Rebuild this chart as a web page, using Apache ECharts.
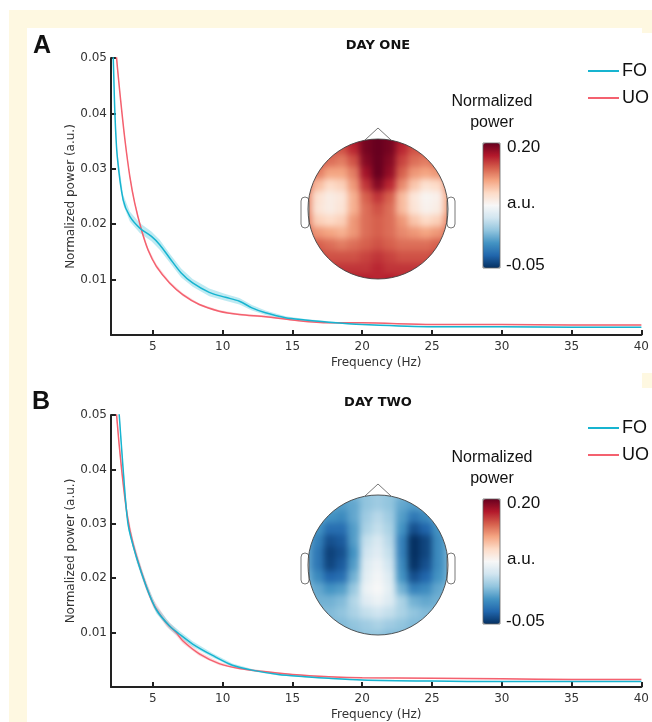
<!DOCTYPE html>
<html>
<head>
<meta charset="utf-8">
<script src="https://cdn.jsdelivr.net/npm/echarts@6/dist/echarts.min.js"></script>
<style>
html, body { margin: 0; padding: 0; background: #fff; }
#wrap { position: relative; width: 652px; height: 722px; }
#main { position: absolute; left: 0; top: 0; width: 652px; height: 722px; }
.head { position: absolute; width: 140px; height: 140px; border-radius: 50%; overflow: hidden; }
.headChart { position: absolute; left: -12px; top: -12px; width: 164px; height: 164px; filter: blur(3.2px); }
</style>
</head>
<body>
<div id="wrap">
  <div class="head" style="left:308px;top:139px"><div id="headA" class="headChart"></div></div>
  <div class="head" style="left:308px;top:495px"><div id="headB" class="headChart"></div></div>
  <div id="main"></div>
</div>
<script>
// axis ticks
var freqTicks = [5, 10, 15, 20, 25, 30, 35, 40];
var powerTicks = [0.01, 0.02, 0.03, 0.04, 0.05];
var rdbu = ['#053061', '#2166ac', '#4393c3', '#92c5de', '#d1e5f0', '#f7f7f7',
            '#fddbc7', '#f4a582', '#d6604d', '#b2182b', '#67001f'];

// day one - FO
var foFreqA = [2.0, 2.16, 2.28, 2.45, 2.87, 3.35, 4.06, 4.9, 5.49, 6.2, 7.03, 7.85, 9.04, 10.2, 11.2, 12.1, 13.07, 14.5, 15.9, 17.6, 20, 25, 30, 35, 40];
var foPowA  = [0.060, 0.050, 0.040, 0.0322, 0.0244, 0.0214, 0.0193, 0.0178, 0.0163, 0.0139, 0.0112, 0.0094, 0.0077, 0.0068, 0.0061, 0.0049, 0.0040, 0.0031, 0.0027, 0.0023, 0.0019, 0.0015, 0.0015, 0.0014, 0.0014];
var foErrA  = [0.0015, 0.0012, 0.0010, 0.0009, 0.0009, 0.0009, 0.0009, 0.0009, 0.0009, 0.0008, 0.0008, 0.0007, 0.0007, 0.0006, 0.0006, 0.0005, 0.0004, 0.0003, 0.0002, 0.0002, 0.0001, 0.0001, 0.0001, 0.0001, 0.0001];
// day one - UO
var uoFreqA = [2.3, 2.4, 2.69, 3.0, 3.35, 3.7, 4.18, 4.65, 5.25, 6.2, 7.14, 8.33, 9.75, 11.2, 13.1, 15, 17.6, 20, 25, 30, 35, 40];
var uoPowA  = [0.054, 0.050, 0.0424, 0.0352, 0.0286, 0.0238, 0.0190, 0.0154, 0.0124, 0.0094, 0.0073, 0.0055, 0.0043, 0.0037, 0.0033, 0.0027, 0.0022, 0.0022, 0.0019, 0.0019, 0.0018, 0.0018];
var uoErrA  = [0.0005, 0.0005, 0.0005, 0.0005, 0.0004, 0.0004, 0.0004, 0.0004, 0.0004, 0.0003, 0.0003, 0.0002, 0.0002, 0.0002, 0.0002, 0.0001, 0.0001, 0.0001, 0.0001, 0.0001, 0.0001, 0.0001];

// day two - FO
var foFreqB = [2.45, 2.59, 2.87, 3.23, 3.83, 4.54, 5.25, 6.2, 6.91, 7.85, 9.28, 10.7, 12.1, 14.0, 15.9, 17.6, 20, 25, 30, 35, 40];
var foPowB  = [0.054, 0.050, 0.040, 0.0298, 0.0238, 0.0184, 0.0142, 0.0112, 0.0097, 0.0079, 0.0058, 0.0040, 0.0031, 0.0023, 0.0019, 0.0016, 0.0013, 0.0011, 0.0010, 0.0010, 0.0010];
var foErrB  = [0.0010, 0.0010, 0.0009, 0.0008, 0.0008, 0.0007, 0.0007, 0.0006, 0.0006, 0.0005, 0.0004, 0.0003, 0.0002, 0.0002, 0.0001, 0.0001, 0.0001, 0.0001, 0.0001, 0.0001, 0.0001];
// day two - UO
var uoFreqB = [2.3, 2.4, 2.76, 3.16, 3.59, 4.3, 5.01, 5.96, 6.67, 7.14, 8.33, 9.75, 11.2, 13.1, 15, 17.6, 20, 25, 30, 35, 40];
var uoPowB  = [0.055, 0.050, 0.040, 0.0316, 0.0262, 0.0202, 0.0154, 0.0118, 0.0100, 0.0085, 0.0061, 0.0043, 0.0034, 0.0028, 0.0023, 0.0019, 0.0017, 0.0016, 0.0015, 0.0014, 0.0014];
var uoErrB  = [0.0010, 0.0010, 0.0009, 0.0009, 0.0009, 0.0008, 0.0008, 0.0007, 0.0006, 0.0005, 0.0004, 0.0003, 0.0002, 0.0002, 0.0001, 0.0001, 0.0001, 0.0001, 0.0001, 0.0001, 0.0001];

// scalp maps, 13x13 cells, rows front -> back, columns left -> right
var topoA = [
  [0.16, 0.16, 0.16, 0.165, 0.18, 0.195, 0.20, 0.195, 0.18, 0.165, 0.16, 0.16, 0.16],
  [0.16, 0.16, 0.155, 0.155, 0.17, 0.195, 0.20, 0.195, 0.17, 0.155, 0.155, 0.16, 0.16],
  [0.16, 0.155, 0.145, 0.14, 0.155, 0.19, 0.20, 0.19, 0.16, 0.145, 0.14, 0.15, 0.16],
  [0.155, 0.14, 0.125, 0.125, 0.14, 0.18, 0.20, 0.185, 0.15, 0.13, 0.125, 0.13, 0.15],
  [0.145, 0.115, 0.10, 0.105, 0.13, 0.165, 0.19, 0.17, 0.135, 0.11, 0.095, 0.10, 0.135],
  [0.135, 0.095, 0.085, 0.09, 0.12, 0.15, 0.165, 0.15, 0.115, 0.09, 0.078, 0.082, 0.125],
  [0.135, 0.092, 0.085, 0.092, 0.12, 0.145, 0.155, 0.145, 0.115, 0.092, 0.08, 0.085, 0.125],
  [0.14, 0.105, 0.10, 0.105, 0.13, 0.145, 0.15, 0.145, 0.13, 0.11, 0.10, 0.105, 0.135],
  [0.145, 0.13, 0.125, 0.12, 0.13, 0.145, 0.15, 0.145, 0.135, 0.13, 0.125, 0.13, 0.145],
  [0.155, 0.15, 0.145, 0.14, 0.145, 0.15, 0.155, 0.15, 0.145, 0.145, 0.145, 0.15, 0.155],
  [0.16, 0.16, 0.155, 0.155, 0.155, 0.16, 0.165, 0.16, 0.155, 0.155, 0.155, 0.16, 0.16],
  [0.165, 0.165, 0.165, 0.165, 0.165, 0.165, 0.17, 0.165, 0.165, 0.165, 0.165, 0.165, 0.165],
  [0.17, 0.17, 0.17, 0.17, 0.175, 0.175, 0.17, 0.175, 0.17, 0.17, 0.17, 0.17, 0.17]
];
var topoB = [
  [0.015, 0.015, 0.015, 0.015, 0.02, 0.025, 0.03, 0.025, 0.02, 0.015, 0.015, 0.015, 0.015],
  [0.015, 0.015, 0.01, 0.005, 0.01, 0.025, 0.03, 0.025, 0.01, 0.005, 0.01, 0.015, 0.015],
  [0.015, 0.01, 0.0, -0.005, 0.01, 0.03, 0.04, 0.03, 0.005, -0.015, -0.005, 0.01, 0.015],
  [0.015, 0.0, -0.02, -0.02, 0.005, 0.035, 0.045, 0.035, 0.0, -0.035, -0.025, 0.0, 0.015],
  [0.01, -0.01, -0.035, -0.03, 0.005, 0.045, 0.055, 0.04, -0.01, -0.05, -0.04, -0.005, 0.015],
  [0.01, -0.015, -0.042, -0.035, 0.0, 0.05, 0.06, 0.045, -0.01, -0.05, -0.04, -0.005, 0.015],
  [0.01, -0.015, -0.04, -0.03, 0.005, 0.058, 0.068, 0.05, -0.005, -0.048, -0.035, -0.005, 0.015],
  [0.015, -0.005, -0.025, -0.02, 0.015, 0.062, 0.072, 0.058, 0.0, -0.035, -0.025, 0.0, 0.015],
  [0.02, 0.01, 0.0, 0.005, 0.028, 0.068, 0.075, 0.062, 0.015, -0.01, -0.005, 0.01, 0.02],
  [0.02, 0.015, 0.015, 0.02, 0.038, 0.06, 0.068, 0.058, 0.035, 0.015, 0.01, 0.015, 0.02],
  [0.02, 0.02, 0.02, 0.025, 0.035, 0.045, 0.05, 0.045, 0.035, 0.025, 0.02, 0.02, 0.02],
  [0.02, 0.02, 0.02, 0.02, 0.025, 0.03, 0.035, 0.03, 0.025, 0.02, 0.02, 0.02, 0.02],
  [0.015, 0.015, 0.015, 0.015, 0.02, 0.025, 0.025, 0.02, 0.02, 0.015, 0.015, 0.015, 0.015]
];

var FO_COLOR = '#17b4d0';
var UO_COLOR = '#f4616f';
var FO_BAND = 'rgba(23,180,208,0.28)';
var UO_BAND = 'rgba(244,97,111,0.22)';
var CREAM = '#fef8e1';
var cellIdx = [0, 1, 2, 3, 4, 5, 6, 7, 8, 9, 10, 11, 12];

function cells(rows) {
  var out = [];
  rows.forEach(function (r, i) {
    r.forEach(function (v, j) { out.push([j, i, v]); });
  });
  return out;
}

// scalp maps: own small charts, blurred and clipped round by css
function drawHead(id, rows) {
  var c = echarts.init(document.getElementById(id));
  c.setOption({
    animation: false,
    grid: { left: 4, top: 4, right: 4, bottom: 4 },
    xAxis: { type: 'category', data: cellIdx, show: false },
    yAxis: { type: 'category', data: cellIdx, show: false, inverse: true },
    visualMap: { show: false, type: 'continuous', min: -0.05, max: 0.2, inRange: { color: rdbu } },
    series: [{ type: 'heatmap', data: cells(rows), silent: true }]
  });
}
drawHead('headA', topoA);
drawHead('headB', topoB);

var chart = echarts.init(document.getElementById('main'));

function band(freq, pow, err, color, ax) {
  return {
    type: 'custom', xAxisIndex: ax, yAxisIndex: ax, silent: true, clip: true, z: 3,
    data: [[freq[0], pow[0]]],
    renderItem: function (params, api) {
      var up = freq.map(function (f, i) { return api.coord([f, pow[i] + err[i]]); });
      var lo = freq.map(function (f, i) { return api.coord([f, pow[i] - err[i]]); }).reverse();
      return { type: 'polygon', shape: { points: up.concat(lo) }, style: { fill: color } };
    }
  };
}

function line(name, freq, pow, color, ax) {
  return {
    type: 'line', name: name, xAxisIndex: ax, yAxisIndex: ax, symbol: 'none', smooth: 0.3,
    silent: true, z: 5,
    data: freq.map(function (f, i) { return [f, pow[i]]; }),
    lineStyle: { color: color, width: 1.5 }, itemStyle: { color: color }
  };
}

function lineX(i) {
  return {
    type: 'value', gridIndex: i, min: 2, max: 40, interval: 1,
    name: 'Frequency (Hz)', nameLocation: 'middle', nameGap: 22, nameMoveOverlap: false,
    nameTextStyle: { fontFamily: 'DejaVu Sans', fontSize: 12, color: '#333' },
    axisLine: { lineStyle: { color: '#222', width: 2 } },
    axisTick: { inside: true, length: 5, lineStyle: { color: '#222', width: 2 }, customValues: freqTicks },
    axisLabel: { customValues: freqTicks, margin: 6, fontFamily: 'DejaVu Sans', fontSize: 12, color: '#333' },
    splitLine: { show: false }
  };
}
function lineY(i) {
  return {
    type: 'value', gridIndex: i, min: 0, max: 0.05, interval: 0.01,
    name: 'Normalized power (a.u.)', nameLocation: 'middle', nameGap: 34, nameMoveOverlap: false,
    nameTextStyle: { fontFamily: 'DejaVu Sans', fontSize: 12, color: '#333' },
    axisLine: { lineStyle: { color: '#222', width: 2 } },
    axisTick: { inside: true, length: 5, lineStyle: { color: '#222', width: 2 }, customValues: powerTicks },
    axisLabel: { customValues: powerTicks, margin: 4, fontFamily: 'DejaVu Sans', fontSize: 12, color: '#333',
      formatter: function (v) { return v.toFixed(2); } },
    splitLine: { show: false }
  };
}

function txt(x, y, s, font, align) {
  return { type: 'text', x: x, y: y, z: 20, silent: true,
    style: { text: s, font: font, fill: '#111', textAlign: align || 'left', textVerticalAlign: 'middle' } };
}

function headFrame(cx, cy) {
  var r = 70;
  return [
    { type: 'rect', z: 11, silent: true, shape: { x: cx - r - 7, y: cy - 12, width: 8, height: 31, r: 4 }, style: { fill: '#fff', stroke: '#555', lineWidth: 0.8 } },
    { type: 'rect', z: 11, silent: true, shape: { x: cx + r - 1, y: cy - 12, width: 8, height: 31, r: 4 }, style: { fill: '#fff', stroke: '#555', lineWidth: 0.8 } },
    { type: 'polyline', z: 12, silent: true, shape: { points: [[cx - 13, cy - r + 1], [cx, cy - r - 11], [cx + 13, cy - r + 1]] }, style: { stroke: '#555', lineWidth: 0.8, fill: 'none' } },
    { type: 'circle', z: 12, silent: true, shape: { cx: cx, cy: cy, r: r }, style: { fill: 'none', stroke: '#444', lineWidth: 0.9 } }
  ];
}

function cbar(top) {
  return [
    { type: 'rect', z: 12, silent: true, shape: { x: 483, y: top, width: 17, height: 125 }, style: { fill: 'none', stroke: '#666', lineWidth: 0.8 } },
    txt(492, top - 41, 'Normalized', '16px Liberation Sans', 'center'),
    txt(492, top - 20, 'power', '16px Liberation Sans', 'center'),
    txt(507, top + 4, '0.20', '17px Liberation Sans'),
    txt(507, top + 60, 'a.u.', '17px Liberation Sans'),
    txt(506, top + 122, '-0.05', '17px Liberation Sans')
  ];
}

var graphics = [
  { type: 'rect', z: 0, silent: true, shape: { x: 9, y: 10, width: 643, height: 18 }, style: { fill: CREAM } },
  { type: 'rect', z: 0, silent: true, shape: { x: 9, y: 10, width: 18, height: 712 }, style: { fill: CREAM } },
  { type: 'rect', z: 0, silent: true, shape: { x: 642, y: 28, width: 10, height: 5 }, style: { fill: CREAM } },
  { type: 'rect', z: 0, silent: true, shape: { x: 642, y: 373, width: 10, height: 15 }, style: { fill: CREAM } },
  txt(33, 46, 'A', 'bold 25px Liberation Sans'),
  txt(32, 402, 'B', 'bold 25px Liberation Sans'),
  txt(378, 46, 'DAY ONE', 'bold 13px DejaVu Sans', 'center'),
  txt(378, 403, 'DAY TWO', 'bold 13px DejaVu Sans', 'center')
].concat(headFrame(378, 209), headFrame(378, 565), cbar(143), cbar(499));

var legendBase = {
  orient: 'vertical', left: 583, icon: 'rect', itemWidth: 31, itemHeight: 2, itemGap: 9,
  textStyle: { fontFamily: 'Liberation Sans', fontSize: 18, color: '#111', lineHeight: 18, padding: [0, 0, 0, -2] },
  selectedMode: false, data: ['FO', 'UO']
};

var option = {
  animation: false,
  backgroundColor: 'transparent',
  grid: [
    { left: 111, right: 7, top: 58, height: 277 },
    { left: 111, right: 7, top: 415, height: 277 }
  ],
  xAxis: [lineX(0), lineX(1)],
  yAxis: [lineY(0), lineY(1)],
  visualMap: [
    { type: 'continuous', min: -0.05, max: 0.2, seriesIndex: [], inRange: { color: rdbu },
      left: 483, top: 143, itemWidth: 17, itemHeight: 125, padding: 0, calculable: false, hoverLink: false },
    { type: 'continuous', min: -0.05, max: 0.2, seriesIndex: [], inRange: { color: rdbu },
      left: 483, top: 499, itemWidth: 17, itemHeight: 125, padding: 0, calculable: false, hoverLink: false }
  ],
  legend: [
    Object.assign({}, legendBase, { top: 57 }),
    Object.assign({}, legendBase, { top: 414 })
  ],
  graphic: graphics,
  series: [
    band(uoFreqA, uoPowA, uoErrA, UO_BAND, 0),
    band(foFreqA, foPowA, foErrA, FO_BAND, 0),
    line('UO', uoFreqA, uoPowA, UO_COLOR, 0),
    line('FO', foFreqA, foPowA, FO_COLOR, 0),
    band(uoFreqB, uoPowB, uoErrB, UO_BAND, 1),
    band(foFreqB, foPowB, foErrB, FO_BAND, 1),
    line('UO', uoFreqB, uoPowB, UO_COLOR, 1),
    line('FO', foFreqB, foPowB, FO_COLOR, 1)
  ]
};

chart.setOption(option);
</script>
</body>
</html>
